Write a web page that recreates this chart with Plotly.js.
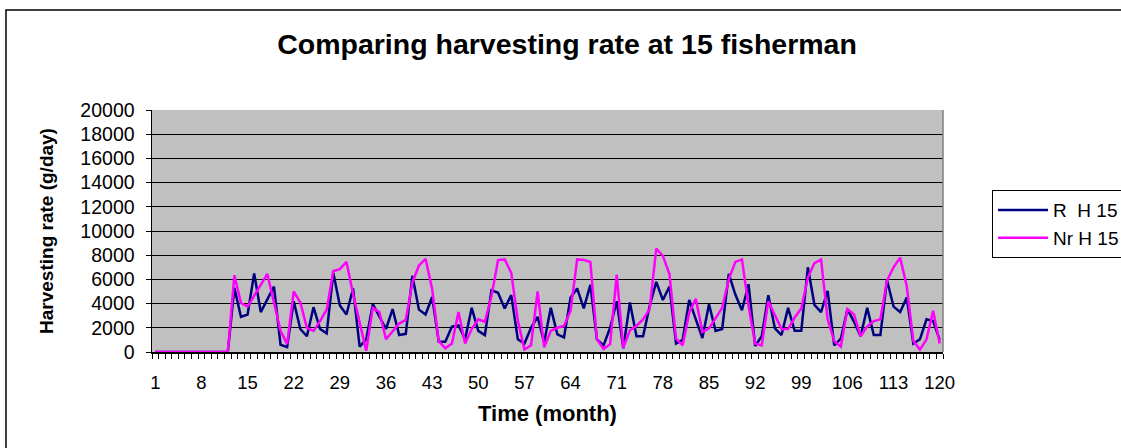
<!DOCTYPE html>
<html>
<head>
<meta charset="utf-8">
<script src="https://cdn.plot.ly/plotly-3.0.1.min.js"></script>
<style>
  html, body { margin: 0; padding: 0; background: #ffffff; }
  #chart { width: 1121px; height: 448px; }
</style>
</head>
<body>
<div id="chart"></div>
<script>
// Categories: months 1..120
const months = [
  1,2,3,4,5,6,7,8,9,10,11,12,13,14,15,16,17,18,19,20,
  21,22,23,24,25,26,27,28,29,30,31,32,33,34,35,36,37,38,39,40,
  41,42,43,44,45,46,47,48,49,50,51,52,53,54,55,56,57,58,59,60,
  61,62,63,64,65,66,67,68,69,70,71,72,73,74,75,76,77,78,79,80,
  81,82,83,84,85,86,87,88,89,90,91,92,93,94,95,96,97,98,99,100,
  101,102,103,104,105,106,107,108,109,110,111,112,113,114,115,116,117,118,119,120
];

// Series "R  H 15" (navy)
const rH15 = [
  0,0,0,0,0,0,0,0,0,0,0,0,
  5300,2900,3100,6500,3300,4300,5400,600,400,4200,
  1900,1300,3700,1900,1550,6550,3850,3100,5250,450,
  1050,3950,2900,1900,3550,1400,1500,6300,3500,3100,
  4550,850,850,2100,2200,1050,3650,1750,1400,5100,
  4900,3600,4700,1050,700,2000,2900,800,3650,1450,
  1200,4500,5250,3600,5550,1050,550,2000,4200,300,
  4100,1300,1300,3800,5800,4300,5400,700,1000,4300,
  2700,1150,3950,1750,1900,6450,4750,3450,5600,500,
  1300,4700,1950,1400,3650,1750,1750,7000,3900,3300,
  5050,550,1100,3550,2500,1300,3650,1400,1400,5950,
  3750,3300,4500,700,1050,2700,2550,1000
];

// Series "Nr H 15" (magenta)
const nrH15 = [
  0,0,0,0,0,0,0,0,0,0,0,0,
  6350,4050,3750,4700,5550,6450,4100,1750,650,5000,
  4100,2000,1750,2550,3500,6700,6850,7450,4800,2500,
  100,3650,3300,1050,1750,2350,2650,5750,7150,7700,
  5200,900,300,700,3300,700,1900,2700,2500,4600,
  7600,7650,6550,2600,200,550,5000,400,1750,2000,
  2150,3400,7650,7600,7450,1050,250,650,6400,350,
  1800,2150,2700,3550,8550,7950,6450,1100,550,3250,
  4400,1650,1950,2850,3650,6000,7450,7650,3800,700,
  550,4200,3000,1900,1900,2850,3600,6150,7350,7650,
  2700,900,450,3550,3100,1300,2100,2550,2700,5900,
  7000,7800,5450,900,200,1050,3400,700
];

const xTickVals = [1,8,15,22,29,36,43,50,57,64,71,78,85,92,99,106,113,120];
const xTickText = ["1","8","15","22","29","36","43","50","57","64","71","78","85","92","99","106","113","120"];
const yTickVals = [0,2000,4000,6000,8000,10000,12000,14000,16000,18000,20000];
const yTickText = ["0","2000","4000","6000","8000","10000","12000","14000","16000","18000","20000"];

const FONT = "Liberation Sans, Arial, sans-serif";

const traces = [
  {
    x: months, y: rH15, type: "scatter", mode: "lines",
    name: "R\u00a0\u00a0H 15",
    line: { color: "#000080", width: 2.5 }
  },
  {
    x: months, y: nrH15, type: "scatter", mode: "lines",
    name: "Nr H 15",
    line: { color: "#ff00ff", width: 2.5 }
  }
];

const layout = {
  width: 1121, height: 448,
  margin: { l: 152, r: 178, t: 110, b: 96, autoexpand: false },
  paper_bgcolor: "#ffffff",
  plot_bgcolor: "#c0c0c0",
  font: { family: FONT, color: "#000000", size: 16 },
  showlegend: true,
  title: {
    text: "<b>Comparing harvesting rate at 15 fisherman</b>",
    font: { family: FONT, size: 28.5, color: "#000000" },
    x: 0.5247, xref: "paper", xanchor: "center",
    y: 0.902, yref: "container", yanchor: "middle"
  },
  xaxis: {
    range: [0.5, 120.5],
    tickmode: "array", tickvals: xTickVals, ticktext: xTickText,
    ticks: "", showgrid: false, zeroline: false,
    showline: true, linecolor: "#000000", linewidth: 1.5,
    tickfont: { family: FONT, size: 18.5, color: "#000000" },
    ticklabelstandoff: 13,
    minor: { tickmode: "linear", tick0: 0.5, dtick: 1, ticks: "outside", ticklen: 5, tickcolor: "#000000", tickwidth: 1, showgrid: false },
    title: { text: "<b>Time (month)</b>", font: { family: FONT, size: 22, color: "#000000" }, standoff: 14 },
    fixedrange: true, automargin: false
  },
  yaxis: {
    range: [0, 20000],
    tickmode: "array", tickvals: yTickVals, ticktext: yTickText,
    ticks: "outside", ticklen: 5, tickcolor: "#000000", tickwidth: 1,
    showgrid: true, gridcolor: "#000000", gridwidth: 1,
    zeroline: false,
    showline: true, linecolor: "#000000", linewidth: 1.5,
    tickfont: { family: FONT, size: 19.5, color: "#000000" },
    ticklabelstandoff: 7,
    title: { text: "<b>Harvesting rate (g/day)</b>", font: { family: FONT, size: 19, color: "#000000" }, standoff: 21 },
    fixedrange: true, automargin: false
  },
  legend: {
    x: 1.062, xref: "paper", xanchor: "left",
    y: 0.669, yref: "paper", yanchor: "top",
    bgcolor: "#ffffff", bordercolor: "#000000", borderwidth: 1,
    font: { family: FONT, size: 19, color: "#000000" },
    itemwidth: 50, tracegroupgap: 2
  },
  shapes: [
    // outer chart frame (extends past the right and bottom edges)
    { type: "rect", xref: "paper", yref: "paper", x0: -0.1846, x1: 1.3, y0: -0.5, y1: 1.413,
      line: { color: "#000000", width: 1.5 }, fillcolor: "rgba(0,0,0,0)", layer: "below" },
    // plot area right border
    { type: "line", xref: "paper", yref: "paper", x0: 1, x1: 1, y0: 0, y1: 1,
      line: { color: "#808080", width: 1.5 }, layer: "above" }
  ]
};

Plotly.newPlot("chart", traces, layout, { displayModeBar: false, staticPlot: true });
</script>
</body>
</html>
